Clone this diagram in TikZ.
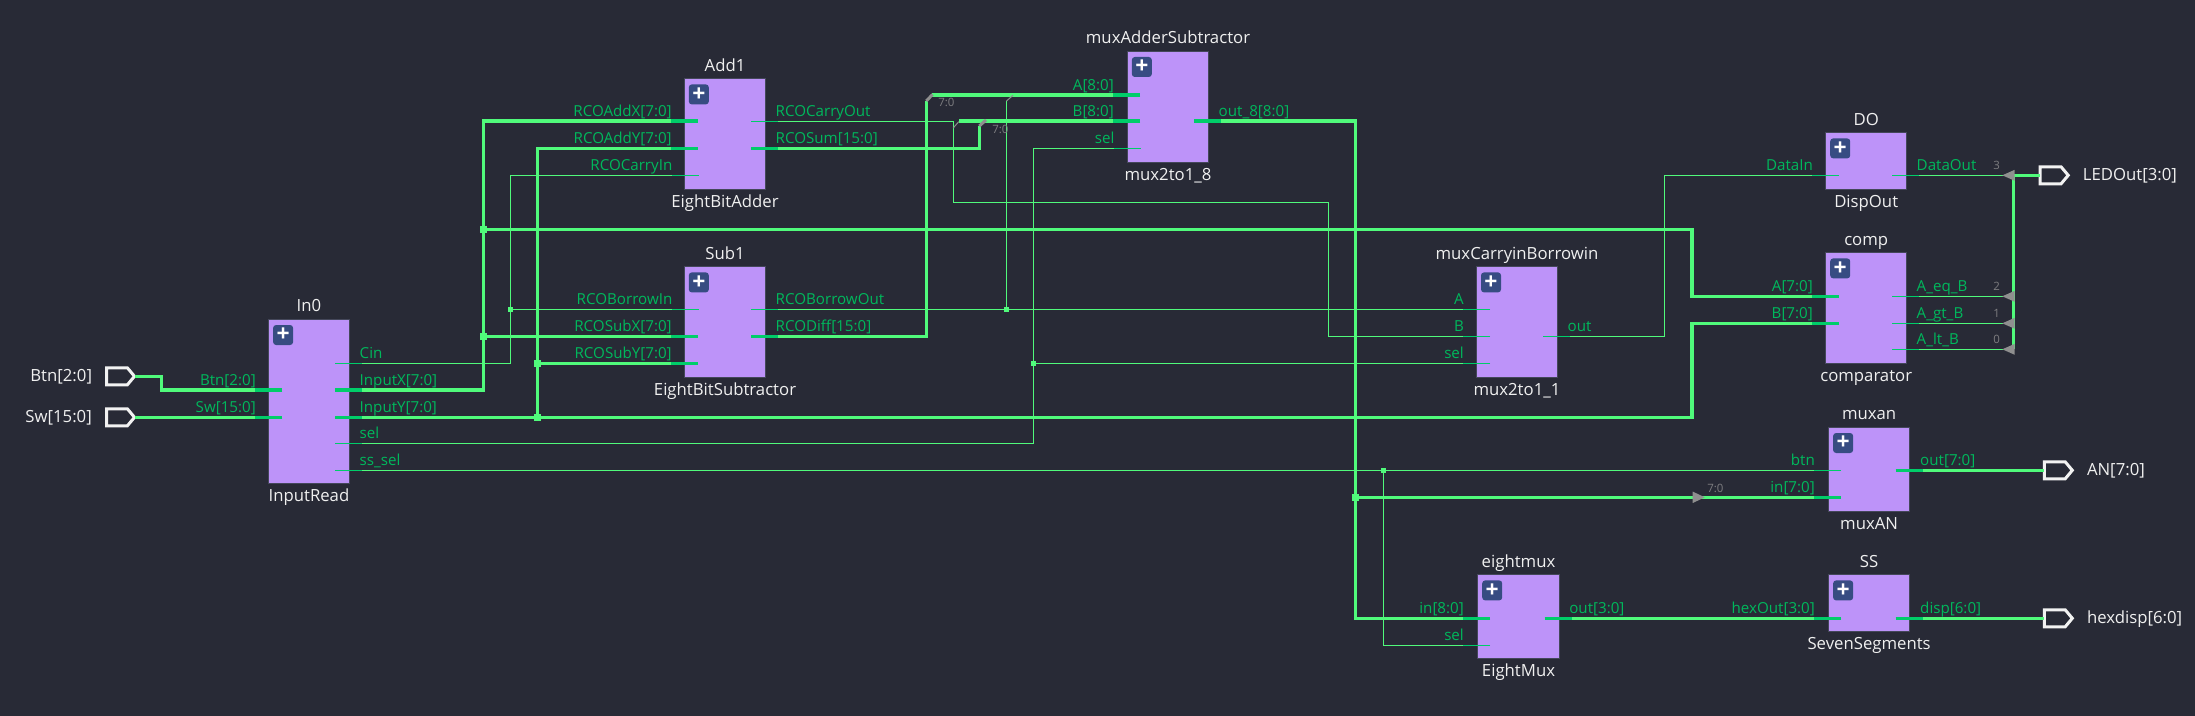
\documentclass[tikz,border=0pt]{standalone}
\usepackage{fontspec}
\setmainfont{Open Sans}
\usetikzlibrary{shapes.symbols,backgrounds}
\definecolor{bgc}{HTML}{282A36}
\definecolor{blkc}{HTML}{BD93F9}
\definecolor{blkb}{HTML}{44475A}
\definecolor{wirec}{HTML}{50FA7B}
\definecolor{stubc}{RGB}{0,205,105}
\definecolor{lblc}{RGB}{0,184,92}
\definecolor{btnc}{RGB}{55,76,130}
\definecolor{slicec}{RGB}{143,143,143}
\definecolor{slicet}{RGB}{125,125,128}
\definecolor{txtc}{RGB}{240,240,240}
\pgfdeclarelayer{front}
\pgfsetlayers{main,front}
\tikzset{
  blockbox/.style={draw=blkb,fill=blkc,line width=1.2bp,inner sep=0pt,outer sep=0pt},
  plusbtn/.style={fill=btnc,rounded corners=3bp,minimum size=20bp,inner sep=0pt,text=white,font=\fontsize{23}{23}\selectfont\bfseries},
  instlabel/.style={text=txtc,font=\fontsize{16.8}{20}\selectfont,inner sep=0pt},
  pinlabel/.style={text=lblc,font=\fontsize{15.2}{18}\selectfont,inner sep=0pt},
  slicelabel/.style={text=slicet,font=\fontsize{11.5}{14}\selectfont,inner sep=0pt},
  bus/.style={draw=wirec,line width=3.6bp,line join=miter},
  sig/.style={draw=wirec,line width=1.3bp},
  stubbus/.style={draw=stubc,line width=3.6bp},
  stubsig/.style={draw=stubc,line width=1.3bp},
  jbus/.style={fill=wirec,minimum size=7.5bp,inner sep=0pt,outer sep=0pt},
  jsig/.style={fill=wirec,minimum size=5bp,inner sep=0pt,outer sep=0pt},
  portbox/.style={shape=signal,signal to=east,signal from=nowhere,signal pointer angle=100,draw=white!95!black,line width=3bp,minimum width=28bp,minimum height=17bp,inner sep=0pt,outer sep=0pt,anchor=west},
  sliceT/.style={draw=slicec,line width=3bp},
  slices/.style={draw=slicec,line width=1bp},
  tri/.style={fill=slicec},
}
% name, x1, y1, x2, y2, instance, reference
\newcommand{\blk}[7]{%
  \pgfmathsetmacro{\bcx}{(#2+#4)/2}\pgfmathsetmacro{\bcy}{(#3+#5)/2}%
  \pgfmathsetmacro{\bw}{#4-#2}\pgfmathsetmacro{\bh}{#5-#3}%
  \node[blockbox,minimum width=\bw bp,minimum height=\bh bp] (#1) at (\bcx,\bcy) {};
  \node[plusbtn] (#1plus) at (#2+14.5,#3+15.7) {+};
  \node[instlabel,anchor=base] (#1inst) at (\bcx,#3-7.4) {#6};
  \node[instlabel,anchor=base] (#1ref) at (\bcx,#5+18.2) {#7};
}
% style, coordinate name, inner x, y, label
\newcommand{\pinL}[5]{%
  \coordinate (#2) at (#3,#4);
  \begin{pgfonlayer}{front}
    \draw[stub#1] (#3,#4) -- ++(-27,0) coordinate (#2o);
  \end{pgfonlayer}
  \node[pinlabel,anchor=base east] (#2l) at (#3-26,#4-5) {#5};
}
\newcommand{\pinR}[5]{%
  \coordinate (#2) at (#3,#4);
  \begin{pgfonlayer}{front}
    \draw[stub#1] (#3,#4) -- ++(27,0) coordinate (#2o);
  \end{pgfonlayer}
  \node[pinlabel,anchor=base west] (#2l) at (#3+24.5,#4-5) {#5};
}
\begin{document}
\begin{tikzpicture}[x=1bp,y=-1bp]
\useasboundingbox (0,0) rectangle (2195,716);
\fill[bgc] (-1,-1) rectangle (2196,717);
% blocks
\blk{In}{268.6}{319.3}{349.3}{483.3}{In0}{InputRead}
\blk{Add}{684.3}{78.7}{765.7}{189.3}{Add1}{EightBitAdder}
\blk{Sub}{684.3}{266.7}{765.7}{377.3}{Sub1}{EightBitSubtractor}
\blk{MuxA}{1127.3}{51.3}{1208.7}{162.7}{muxAdderSubtractor}{mux2to1\_8}
\blk{MuxC}{1476.5}{266.7}{1557.4}{377.3}{muxCarryinBorrowin}{mux2to1\_1}
\blk{DO}{1825.7}{132.7}{1906.7}{189.3}{DO}{DispOut}
\blk{Comp}{1825.7}{252.7}{1906.7}{363.3}{comp}{comparator}
\blk{An}{1828.6}{427.3}{1909.6}{511.3}{muxan}{muxAN}
\blk{Em}{1477.7}{574.7}{1559.3}{658.3}{eightmux}{EightMux}
\blk{SS}{1828.6}{574.7}{1909.6}{631.3}{SS}{SevenSegments}
% pins
\pinL{bus}{InBtn}{282}{390}{Btn[2:0]}
\pinL{bus}{InSw}{282}{417.3}{Sw[15:0]}
\pinR{sig}{InCin}{335}{363.3}{Cin}
\pinR{bus}{InX}{335}{390}{InputX[7:0]}
\pinR{bus}{InY}{335}{417.3}{InputY[7:0]}
\pinR{sig}{InSel}{335}{443.3}{sel}
\pinR{sig}{InSs}{335}{470.3}{ss\_sel}
\pinL{bus}{AddX}{697.9}{121.3}{RCOAddX[7:0]}
\pinL{bus}{AddY}{697.9}{148.3}{RCOAddY[7:0]}
\pinL{sig}{AddC}{698.5}{175.3}{RCOCarryIn}
\pinR{sig}{AddCo}{751}{121.3}{RCOCarryOut}
\pinR{bus}{AddS}{751}{148.3}{RCOSum[15:0]}
\pinL{sig}{SubB}{698.5}{309.3}{RCOBorrowIn}
\pinL{bus}{SubX}{697.9}{336.3}{RCOSubX[7:0]}
\pinL{bus}{SubY}{697.9}{363.3}{RCOSubY[7:0]}
\pinR{sig}{SubBo}{751}{309.3}{RCOBorrowOut}
\pinR{bus}{SubD}{751}{336.3}{RCODiff[15:0]}
\pinL{bus}{MuxAa}{1140}{95.3}{A[8:0]}
\pinL{bus}{MuxAb}{1140}{121.3}{B[8:0]}
\pinL{sig}{MuxAs}{1140.7}{148.3}{sel}
\pinR{bus}{MuxAo}{1194}{121.3}{out\_8[8:0]}
\pinL{sig}{MuxCa}{1490}{309.3}{A}
\pinL{sig}{MuxCb}{1490}{336.3}{B}
\pinL{sig}{MuxCs}{1490}{363.3}{sel}
\pinR{sig}{MuxCo}{1543}{336.3}{out}
\pinL{sig}{DOi}{1839}{175.3}{DataIn}
\pinR{sig}{DOo}{1892}{175.3}{DataOut}
\pinL{bus}{CompA}{1839}{296.3}{A[7:0]}
\pinL{bus}{CompB}{1839}{323.3}{B[7:0]}
\pinR{sig}{CompE}{1892}{296.3}{A\_eq\_B}
\pinR{sig}{CompG}{1892}{323.3}{A\_gt\_B}
\pinR{sig}{CompL}{1892}{349.3}{A\_lt\_B}
\pinL{sig}{AnB}{1841}{470.3}{btn}
\pinL{bus}{AnI}{1841}{497.3}{in[7:0]}
\pinR{bus}{AnO}{1895.5}{470.3}{out[7:0]}
\pinL{bus}{EmI}{1490}{618.3}{in[8:0]}
\pinL{sig}{EmS}{1490}{645.3}{sel}
\pinR{bus}{EmO}{1544.6}{618.3}{out[3:0]}
\pinL{bus}{SSh}{1841}{618.3}{hexOut[3:0]}
\pinR{bus}{SSd}{1895.5}{618.3}{disp[6:0]}
% ports
\node[portbox] (PBtn) at (106.5,376.3) {};
\node[portbox] (PSw) at (106.5,417.3) {};
\node[portbox] (PLed) at (2040.2,175.3) {};
\node[portbox] (PAn) at (2044.3,470.3) {};
\node[portbox] (PHex) at (2044.3,618.3) {};
\node[instlabel,anchor=base east] (LBtn) at (92.2,381.7) {Btn[2:0]};
\node[instlabel,anchor=base east] (LSw) at (92,422.7) {Sw[15:0]};
\node[instlabel,anchor=base west] (LLed) at (2082.7,180.7) {LEDOut[3:0]};
\node[instlabel,anchor=base west] (LAn) at (2086.8,475.7) {AN[7:0]};
\node[instlabel,anchor=base west] (LHex) at (2086.8,623.7) {hexdisp[6:0]};
% routing points
\coordinate (cBtn) at (161.4,376.3);
\coordinate (xX) at (483.6,121.3);
\coordinate (xY) at (537.5,148.3);
\coordinate (xC) at (510.4,175.3);
\coordinate (jXa) at (483.6,229.3);
\coordinate (jXb) at (483.6,336.3);
\coordinate (jYa) at (537.5,363.3);
\coordinate (jYb) at (537.5,417.3);
\coordinate (jCb) at (510.4,309.3);
\coordinate (cCmp) at (1691.7,229.3);
\coordinate (cCmpB) at (1691.7,417.3);
\coordinate (cD) at (926.3,101.5);
\coordinate (dA) at (931.7,95.3);
\coordinate (cS) at (979.3,126);
\coordinate (dB) at (959.3,121.3);
\coordinate (cCo) at (953.2,202.3);
\coordinate (cCo2) at (1328.6,202.3);
\coordinate (cCo3) at (953.2,121.3);
\coordinate (jBo) at (1006.5,309.3);
\coordinate (cBo) at (1006.5,101);
\coordinate (dBo) at (1013,95.3);
\coordinate (jSel) at (1033.4,363.3);
\coordinate (cSel) at (1033.4,443.3);
\coordinate (cOut) at (1355.5,121.3);
\coordinate (jOut) at (1355.5,497.3);
\coordinate (jSs) at (1383.3,470.3);
\coordinate (cDo) at (1664.6,336.3);
\coordinate (bLed) at (2013.3,175.3);
\coordinate (bLedE) at (2013.3,349.3);
% buses and signals
\draw[bus] (PBtn.east) -- (cBtn) |- (InBtn);
\draw[bus] (PSw.east) -- (InSw);
\draw[bus] (InX) -| (xX) -- (AddX);
\draw[bus] (jXb) -- (SubX);
\draw[bus] (InY) -- (cCmpB) |- (CompB);
\draw[bus] (jYb) |- (AddY);
\draw[bus] (jYa) -- (SubY);
\draw[bus] (jXa) -- (cCmp) |- (CompA);
\draw[sig] (InCin) -| (xC) -- (AddC);
\draw[sig] (jCb) -- (SubB);
\draw[sig] (AddCo) -- (cCo3) -- (cCo) -- (cCo2) |- (MuxCb);
\draw[bus] (dB) -- (MuxAb);
\draw[bus] (AddS) -| (cS);
\draw[bus] (SubD) -| (cD);
\draw[bus] (dA) -- (MuxAa);
\draw[sig] (SubBo) -- (jBo) -- (MuxCa);
\draw[sig] (jBo) -- (cBo);
\draw[sig] (InSel) -- (cSel) -- (jSel) |- (MuxAs);
\draw[sig] (jSel) -- (MuxCs);
\draw[sig] (InSs) -- (AnB);
\draw[sig] (jSs) |- (EmS);
\draw[bus] (MuxAo) -- (cOut) |- (EmI);
\draw[bus] (jOut) -- (AnI);
\draw[bus] (EmO) -- (SSh);
\draw[bus] (SSd) -- (PHex.west);
\draw[bus] (AnO) -- (PAn.west);
\draw[sig] (MuxCo) -- (cDo) |- (DOi);
\draw[sig] (DOo) -- (bLed);
\draw[sig] (CompE) -- (2003,296.3);
\draw[sig] (CompG) -- (2003,323.3);
\draw[sig] (CompL) -- (2003,349.3);
\draw[bus] (bLed) -- (bLedE);
\draw[bus] (bLed) -- (PLed.west);
% junctions
\foreach \j in {jXa,jXb,jYa,jYb,jOut} \node[jbus] at (\j) {};
\foreach \j in {jCb,jBo,jSel,jSs} \node[jsig] at (\j) {};
% slices
\draw[sliceT] (926.3,101) -- (932.5,94.5);
\draw[sliceT] (979.3,126) -- (986,120);
\draw[slices] (953.2,128) -- (958.7,121.7);
\draw[slices] (cBo) -- (dBo);
\node[slicelabel] (s1) at (946.4,102.3) {7:0};
\node[slicelabel] (s2) at (1000.4,129.3) {7:0};
\node[slicelabel] (s3) at (1715.4,488) {7:0};
\fill[tri] (1692.5,491.5) -- (1704.8,497.3) -- (1692.5,503.1) -- cycle;
\foreach \y/\n in {175.3/3,296.3/2,323.3/1,349.3/0} {
  \fill[tri] (2002.3,\y) -- (2014.7,\y-5.5) -- (2014.7,\y+5.5) -- cycle;
  \node[slicelabel] at (1996.7,\y-10) {\n};
}
\end{tikzpicture}
\end{document}
